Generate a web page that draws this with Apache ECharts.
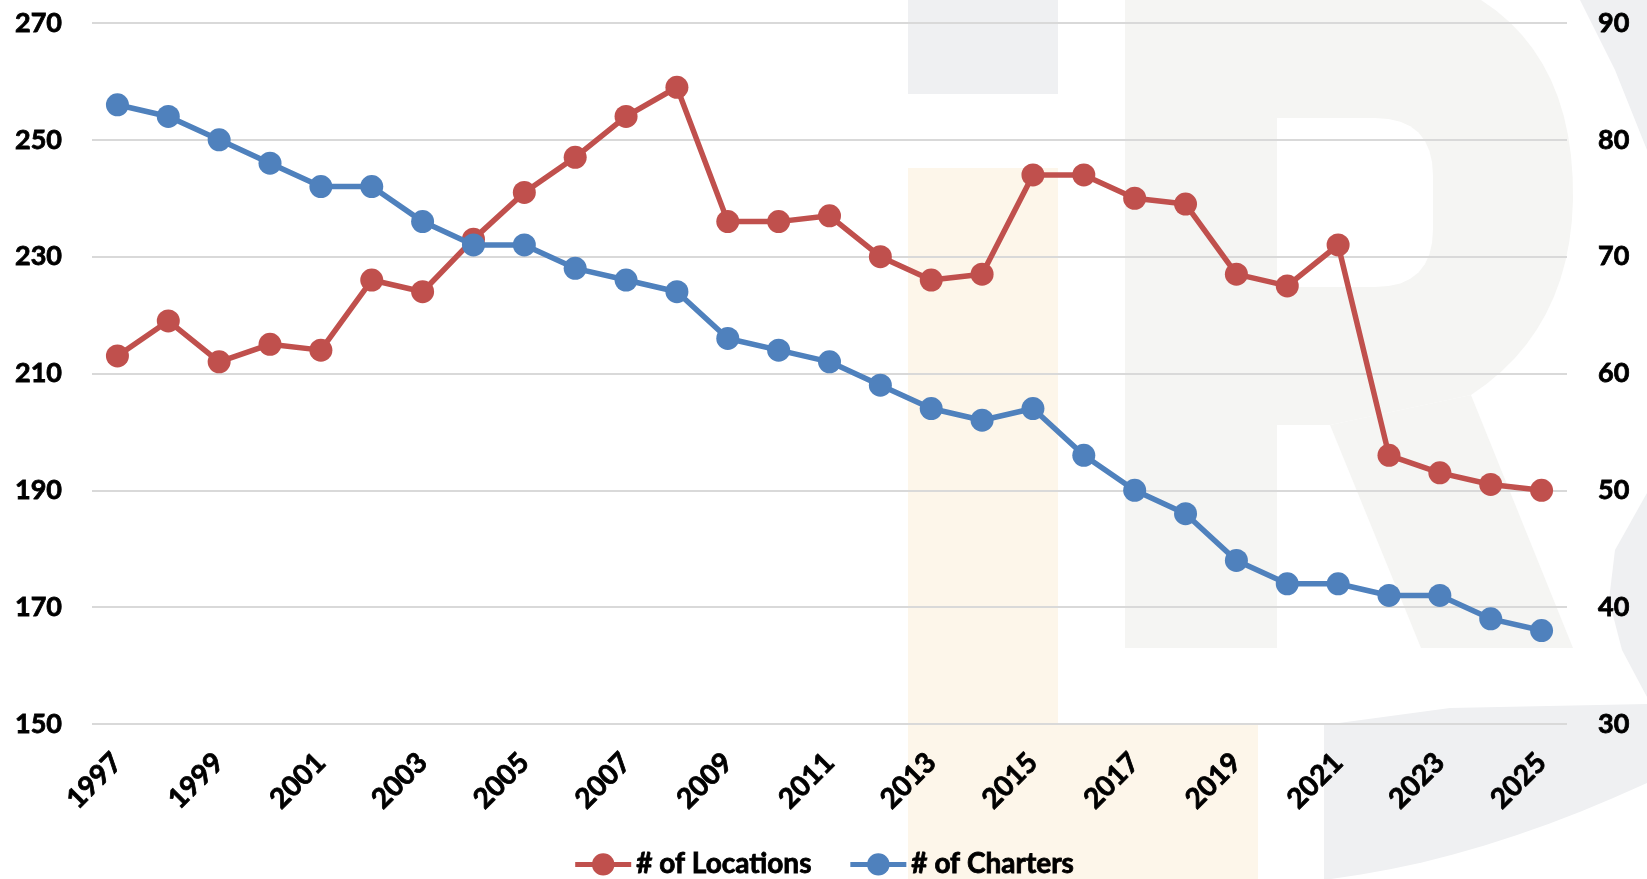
<!DOCTYPE html>
<html>
<head>
<meta charset="utf-8">
<script src="https://cdn.jsdelivr.net/npm/echarts@6/dist/echarts.min.js"></script>
<style>
html,body{margin:0;padding:0;background:#fff;}
#chart{width:1647px;height:879px;}
</style>
</head>
<body>
<div id="chart"></div>
<script>
const years = ['1997','1998','1999','2000','2001','2002','2003','2004','2005','2006','2007','2008','2009','2010','2011','2012','2013','2014','2015','2016','2017','2018','2019','2020','2021','2022','2023','2024','2025'];
const locations = [213,219,212,215,214,226,224,233,241,247,254,259,236,236,237,230,226,227,244,244,240,239,227,225,232,196,193,191,190];
const charters = [83,82,80,78,76,76,73,71,71,69,68,67,63,62,61,59,57,56,57,53,50,48,44,42,42,41,41,39,38];
const leftTicks = {min:150, max:270, interval:20};
const rightTicks = {min:30, max:90, interval:10};

const FONT = 'Lato';
const chart = echarts.init(document.getElementById('chart'), null, {renderer:'canvas'});

const grayR = '#f5f5f3';
const grayB = '#eff0f2';
const cream = '#fdf6ea';

// quadratic curve sampler for the decorative watermark outline
function qb(p0, p1, p2, n) {
  const pts = [];
  for (let i = 0; i <= n; i++) {
    const t = i / n, u = 1 - t;
    pts.push([u*u*p0[0] + 2*u*t*p1[0] + t*t*p2[0], u*u*p0[1] + 2*u*t*p1[1] + t*t*p2[1]]);
  }
  return pts;
}
const bowl = [[1125,0]]
  .concat(qb([1481,0],[1575,60],[1573,200],12))
  .concat(qb([1573,200],[1570,330],[1471,395],12))
  .concat([[1330,425],[1277,425],[1277,648],[1125,648]]);
const counter = [[1277,118]]
  .concat(qb([1375,118],[1433,118],[1433,176],8))
  .concat(qb([1433,229],[1433,287],[1375,287],8))
  .concat([[1277,287]]);
const ringBottom = [[1324,725],[1450,708],[1647,704],[1647,783]]
  .concat(qb([1647,783],[1480,860],[1331,879],10))
  .concat([[1324,879]]);

const bg = [
  {type:'rect', shape:{x:908,y:0,width:150,height:94}, style:{fill:grayB}},
  {type:'rect', shape:{x:908,y:168,width:150,height:711}, style:{fill:cream}},
  {type:'rect', shape:{x:908,y:725,width:350,height:154}, style:{fill:cream}},
  {type:'polygon', shape:{points:bowl}, style:{fill:grayR}},
  {type:'polygon', shape:{points:[[1330,425],[1471,395],[1573,648],[1421,648]]}, style:{fill:grayR}},
  {type:'polygon', shape:{points:counter}, style:{fill:'#ffffff'}},
  {type:'polygon', shape:{points:[[1580,0],[1647,0],[1647,150],[1615,70]]}, style:{fill:grayB}},
  {type:'polygon', shape:{points:[[1647,493],[1615,550],[1609,600],[1622,650],[1647,697]]}, style:{fill:grayB}},
  {type:'polygon', shape:{points:ringBottom}, style:{fill:grayB}}
].map(e => Object.assign(e, {z:-10, silent:true}));

const labelStyle = {color:'#000', fontFamily:FONT, fontWeight:'bold', fontSize:27,
  textBorderColor:'#000', textBorderWidth:0.8};

chart.setOption({
  animation:false,
  backgroundColor:'#ffffff',
  graphic:{elements:bg},
  grid:{left:92, right:80, top:23, bottom:155, containLabel:false},
  legend:{
    left:'center', top:845,
    itemWidth:56, itemHeight:28, itemGap:36,
    lineStyle:{width:5},
    textStyle:{color:'#000', fontFamily:FONT, fontWeight:'bold', fontSize:28,
      textBorderColor:'#000', textBorderWidth:0.8},
    data:['# of Locations','# of Charters']
  },
  xAxis:{
    type:'category', data:years, boundaryGap:true,
    axisLine:{show:false}, axisTick:{show:false},
    axisLabel:Object.assign({}, labelStyle, {rotate:45, interval:1, margin:34, fontSize:28})
  },
  yAxis:[
    {type:'value', position:'left', min:leftTicks.min, max:leftTicks.max, interval:leftTicks.interval,
     axisLine:{show:false}, axisTick:{show:false},
     axisLabel:Object.assign({}, labelStyle, {margin:30}),
     splitLine:{show:true, lineStyle:{color:'#d9d9d9', width:2}}},
    {type:'value', position:'right', min:rightTicks.min, max:rightTicks.max, interval:rightTicks.interval,
     axisLine:{show:false}, axisTick:{show:false},
     axisLabel:Object.assign({}, labelStyle, {margin:31}),
     splitLine:{show:false}}
  ],
  series:[
    {name:'# of Locations', type:'line', yAxisIndex:0, data:locations,
     symbol:'circle', symbolSize:23, lineStyle:{color:'#C0504D', width:5.5},
     itemStyle:{color:'#C0504D'}, z:2},
    {name:'# of Charters', type:'line', yAxisIndex:1, data:charters,
     symbol:'circle', symbolSize:23, lineStyle:{color:'#4F81BD', width:5.5},
     itemStyle:{color:'#4F81BD'}, z:3}
  ]
});
</script>
</body>
</html>
